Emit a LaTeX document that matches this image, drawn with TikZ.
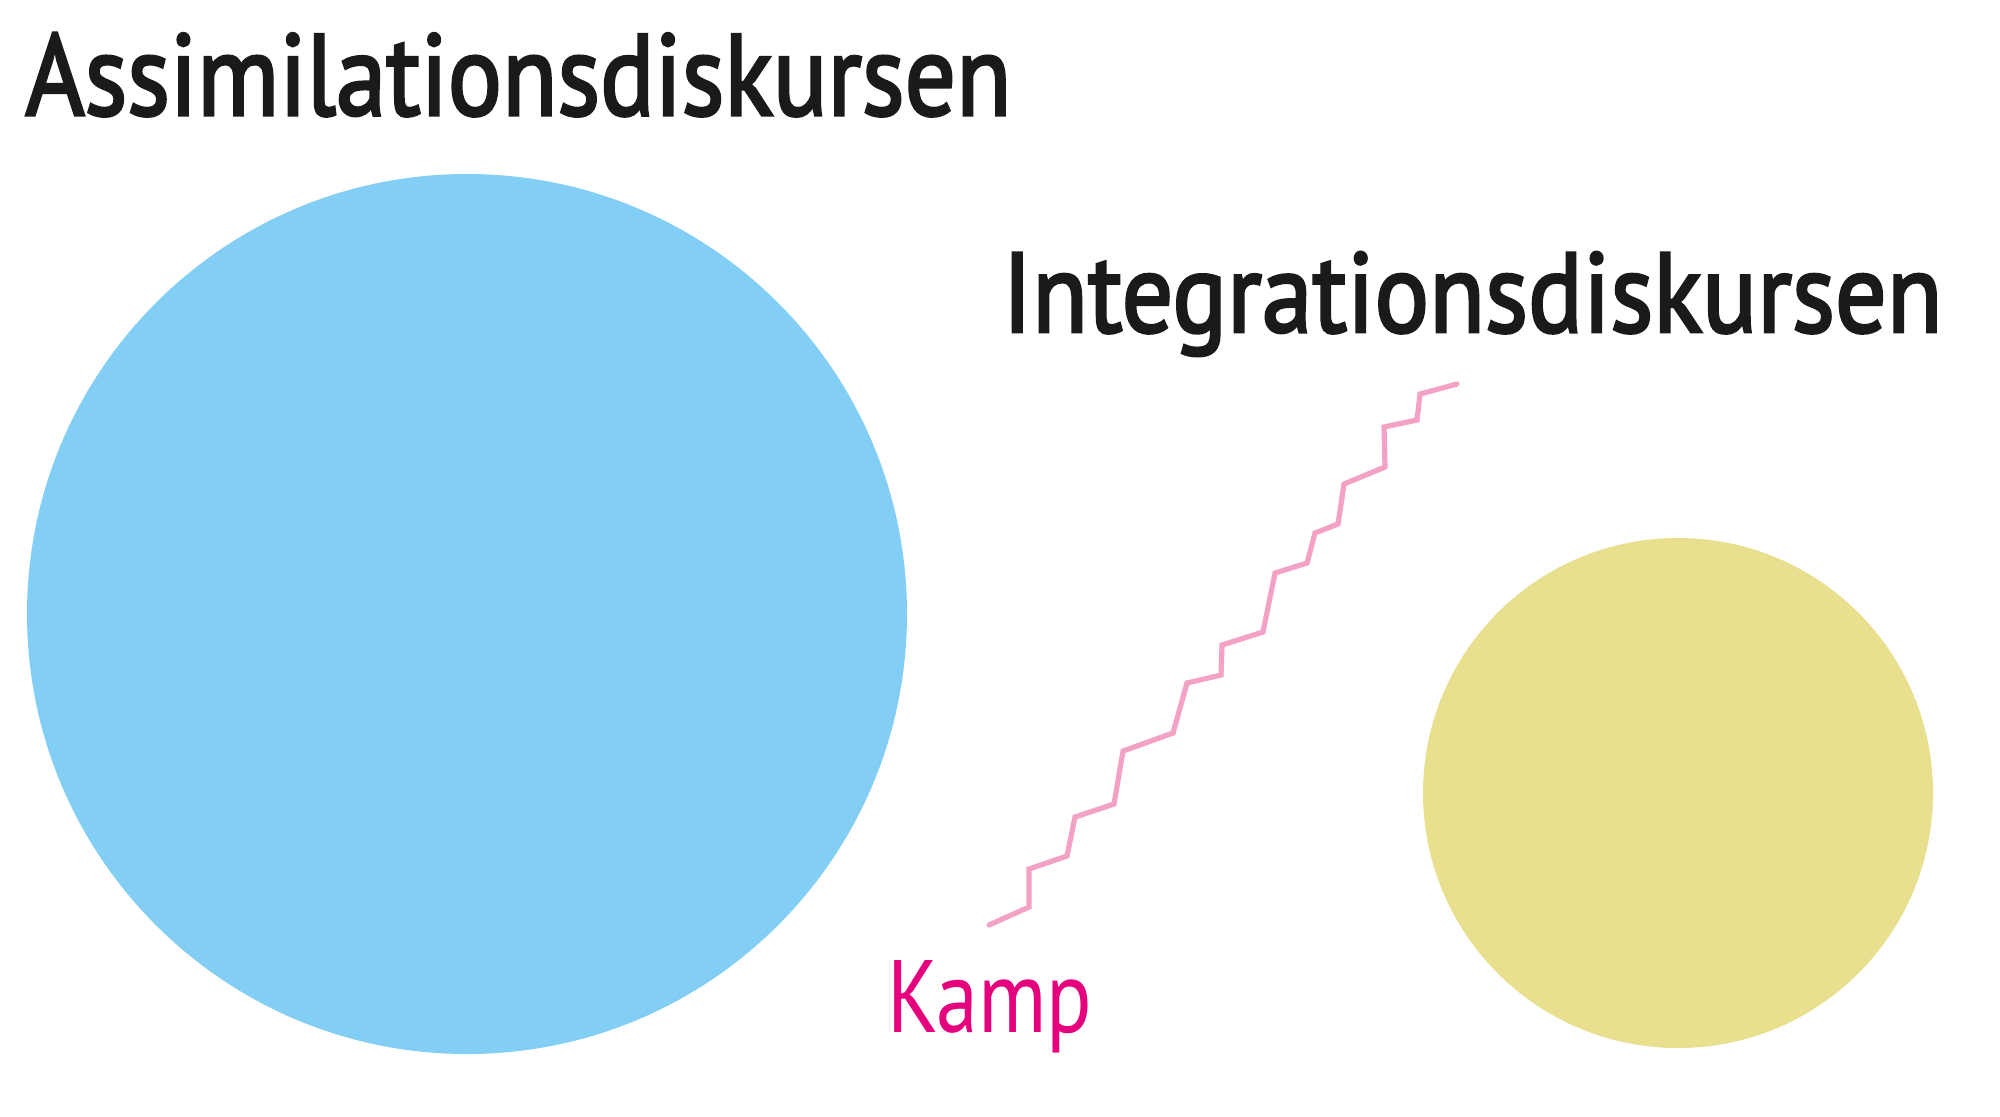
\documentclass[tikz,border=0pt]{standalone}
\usepackage{fontspec}
\setmainfont{PT Sans}
\newfontfamily\semibfont[FakeBold=2.6]{PT Sans}
\usepackage{graphicx}
\definecolor{blueC}{HTML}{83CEF4}
\definecolor{yellowC}{HTML}{E8E08E}
\definecolor{zigC}{HTML}{F3A2C5}
\definecolor{kampC}{HTML}{E5007E}
\definecolor{titleC}{HTML}{1A1A1A}
\tikzset{
  disc/.style={circle, inner sep=0pt, draw=none},
  title/.style={anchor=base west, inner sep=0pt, text=titleC, font=\semibfont},
  kamplabel/.style={anchor=base west, inner sep=0pt, text=kampC},
  zigline/.style={draw=zigC, line width=2.6pt, line cap=round, line join=miter}
}
\begin{document}
\begin{tikzpicture}[x=0.5pt, y=-0.5pt]
\useasboundingbox (0,0) rectangle (2000,1116);
\fill[white] (0,0) rectangle (2000,1116);
\node[disc, fill=blueC, minimum size=440pt] (assim) at (467,614) {};
\node[disc, fill=yellowC, minimum size=255pt] (integ) at (1678,793) {};
\node[title] (assimlabel) at (25,115) {\resizebox{493pt}{41pt}{Assimilationsdiskursen}};
\node[title] (integlabel) at (1002,332) {\resizebox{470pt}{40pt}{Integrationsdiskursen}};
\node[kamplabel] (kamp) at (887,1032) {\resizebox{102.5pt}{36pt}{Kamp}};
\coordinate (z0) at (989,925);
\coordinate (z21) at (1457,384);
\draw[zigline] (z0) -- (1029,907) -- (1029,869) -- (1067,856) -- (1075,817) -- (1114,804)
  -- (1123,751) -- (1173,733) -- (1187,683) -- (1221,675) -- (1222,645) -- (1263,632)
  -- (1275,573) -- (1307,563) -- (1315,533) -- (1338,524) -- (1344,484) -- (1385,467)
  -- (1384,427) -- (1417,420) -- (1420,394) -- (z21);
\end{tikzpicture}
\end{document}
